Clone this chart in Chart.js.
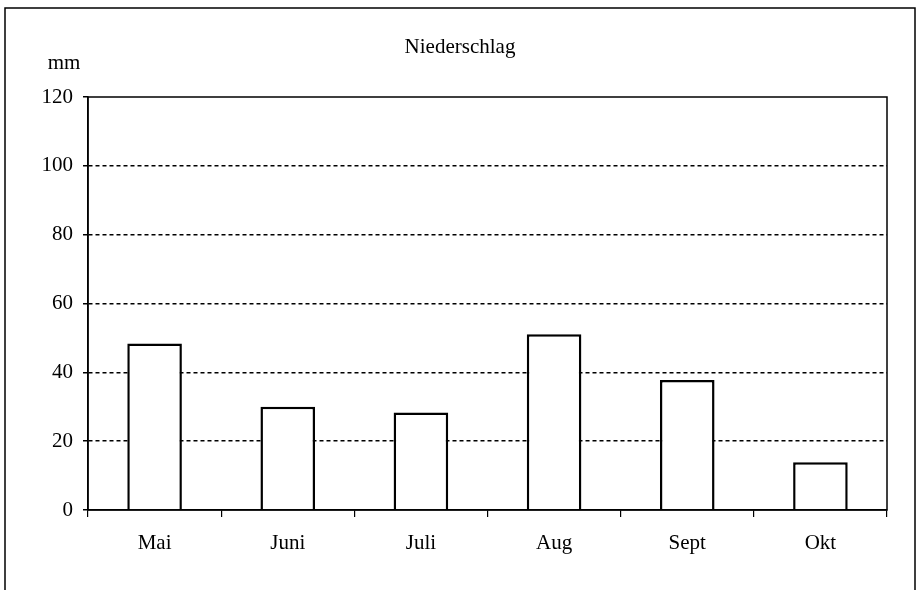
<!DOCTYPE html>
<html>
<head>
<meta charset="utf-8">
<script src="https://cdn.jsdelivr.net/npm/chart.js@4/dist/chart.umd.min.js"></script>
<style>
  html, body { margin: 0; padding: 0; background: #fff; }
  #wrap { width: 916px; height: 590px; }
</style>
</head>
<body>
<div id="wrap"><canvas id="myChart"></canvas></div>
<script>
let months = ["Mai", "Juni", "Juli", "Aug", "Sept", "Okt"];
let rain = [48.4, 30.0, 28.3, 51.1, 37.8, 13.9];
let yTicks = [0, 20, 40, 60, 80, 100, 120];
let title = "Niederschlag";
let unit = "mm";

const serif = "'Liberation Serif', 'Times New Roman', serif";

// frame round the picture, box round the plot, title and unit label
const extras = {
  id: "extras",
  afterDraw(chart) {
    const c = chart.ctx;
    const a = chart.chartArea;
    c.save();
    c.strokeStyle = "#000";
    c.lineWidth = 1.5;
    c.setLineDash([]);
    c.beginPath();
    c.moveTo(5, 590);
    c.lineTo(5, 8);
    c.lineTo(915, 8);
    c.lineTo(915, 590);
    c.stroke();
    c.strokeRect(a.left, a.top, a.right - a.left, a.bottom - a.top);
    c.fillStyle = "#000";
    c.font = "21px " + serif;
    c.textAlign = "center";
    c.textBaseline = "middle";
    c.fillText(title, 460, 47);
    c.fillText(unit, 64, 63);
    c.restore();
  },
};

const ctx = document.getElementById("myChart");
let myChart = new Chart(ctx, {
  type: "bar",
  data: {
    labels: months,
    datasets: [
      {
        label: title,
        data: rain,
        backgroundColor: "#fff",
        borderColor: "#000",
        borderWidth: 2.5,
        barPercentage: 0.41,
        categoryPercentage: 1,
      },
    ],
  },
  plugins: [extras],
  options: {
    responsive: true,
    maintainAspectRatio: false,
    animation: false,
    layout: { padding: { left: 0, top: 97, right: 29, bottom: 30 } },
    plugins: {
      legend: { display: false },
      tooltip: { enabled: false },
    },
    scales: {
      x: {
        afterFit: (scale) => { scale.height = 50; },
        grid: {
          offset: true,
          drawOnChartArea: false,
          tickLength: 7,
          color: "#000",
          lineWidth: 1.2,
        },
        border: { display: true, color: "#000", width: 1.5 },
        ticks: {
          color: "#000",
          padding: 14,
          font: { family: serif, size: 21 },
        },
      },
      y: {
        min: 0,
        max: 120,
        afterFit: (scale) => { scale.width = 88; },
        afterBuildTicks: (scale) => {
          scale.ticks = yTicks.map((v) => ({ value: v }));
        },
        grid: {
          color: (c) => (c.tick.value === 0 || c.tick.value === 120 ? "rgba(0,0,0,0)" : "#000"),
          lineWidth: 1.5,
          tickColor: "#000",
          tickBorderDash: [],
          tickLength: 5,
        },
        border: { display: true, color: "#000", width: 1.5, dash: [4, 3] },
        ticks: {
          color: "#000",
          padding: 10,
          font: { family: serif, size: 21 },
        },
      },
    },
  },
});
</script>
</body>
</html>
